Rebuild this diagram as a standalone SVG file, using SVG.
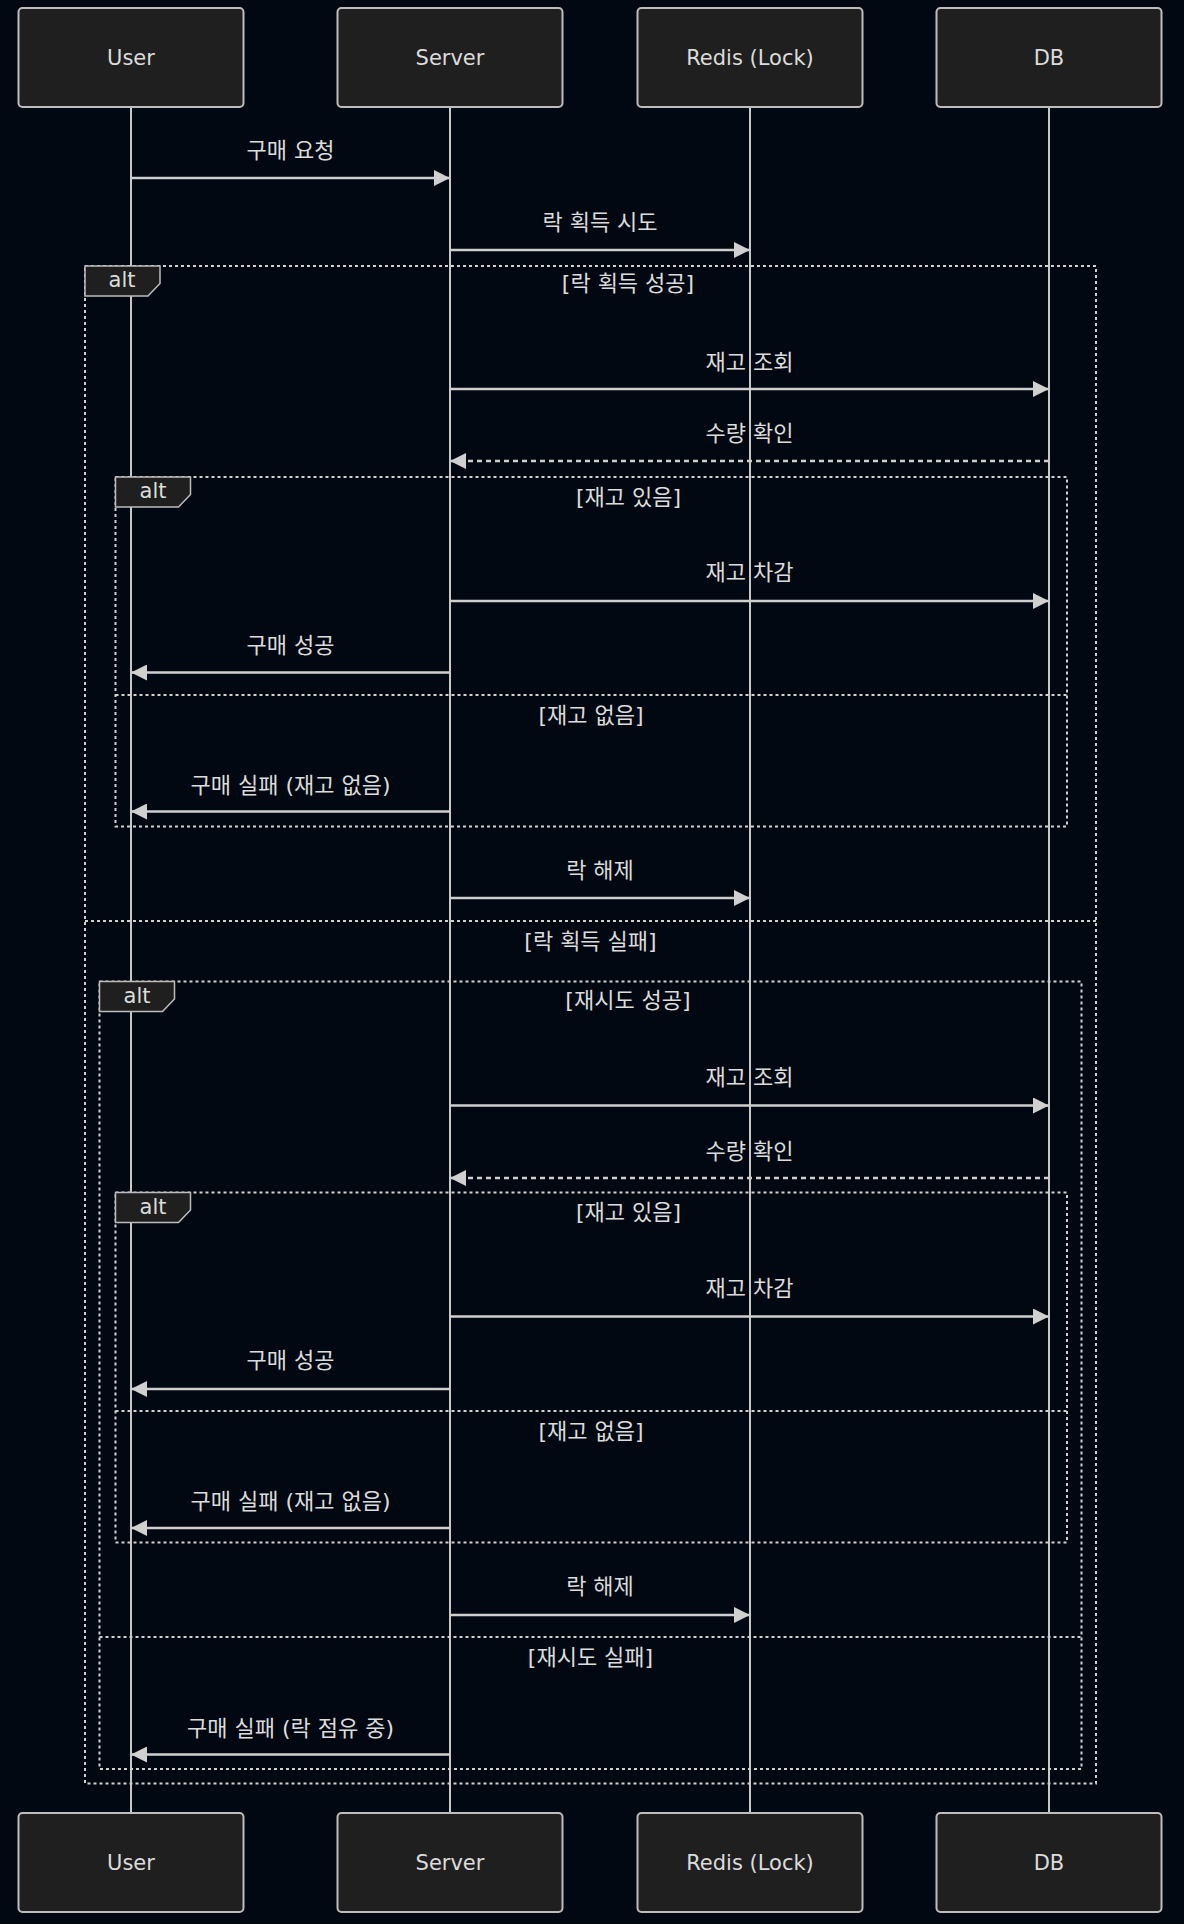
<svg xmlns="http://www.w3.org/2000/svg" width="1184" height="1924" viewBox="0 0 1184 1924">
<style>
  text { font-family: "DejaVu Sans", "Noto Sans CJK KR", sans-serif; fill: #dcdcdc; }
  .actor rect { fill: #1f1f1f; stroke: #bdbdbd; stroke-width: 2; }
  .actor text { font-size: 21px; text-anchor: middle; dominant-baseline: central; }
  .life { stroke: #c8c8c8; stroke-width: 2; }
  .msg { stroke: #cfcfcf; stroke-width: 2.5; fill: none; marker-end: url(#arr); }
  .dash { stroke-dasharray: 5,4; }
  .mt { font-size: 22px; text-anchor: middle; dominant-baseline: central; }
  .frame { fill: none; stroke: #d0d0d0; stroke-width: 2; stroke-dasharray: 3,3; }
  .lbl { fill: #1f1f1f; stroke: #bdbdbd; stroke-width: 1.5; }
  .lt { font-size: 21px; text-anchor: middle; dominant-baseline: central; }
  .st { font-size: 22px; text-anchor: middle; dominant-baseline: central; }
</style>
<defs>
  <marker id="arr" markerUnits="userSpaceOnUse" markerWidth="16" markerHeight="16" refX="16" refY="8" orient="auto">
    <path d="M0,0 L16,8 L0,16 z" fill="#d0d0d0"/>
  </marker>
</defs>
<rect x="0" y="0" width="1184" height="1924" fill="#020812"/>

<g id="lifelines">
  <line class="life" x1="131" y1="107" x2="131" y2="1813"/>
  <line class="life" x1="450" y1="107" x2="450" y2="1813"/>
  <line class="life" x1="750" y1="107" x2="750" y2="1813"/>
  <line class="life" x1="1049" y1="107" x2="1049" y2="1813"/>
</g>

<g id="actor-user-top" class="actor"><rect x="18.5" y="8" width="225" height="99" rx="4"/><text x="131" y="57.5">User</text></g>
<g id="actor-server-top" class="actor"><rect x="337.5" y="8" width="225" height="99" rx="4"/><text x="450" y="57.5">Server</text></g>
<g id="actor-redis-top" class="actor"><rect x="637.5" y="8" width="225" height="99" rx="4"/><text x="750" y="57.5">Redis (Lock)</text></g>
<g id="actor-db-top" class="actor"><rect x="936.5" y="8" width="225" height="99" rx="4"/><text x="1049" y="57.5">DB</text></g>

<g id="actor-user-bottom" class="actor"><rect x="18.5" y="1813" width="225" height="99" rx="4"/><text x="131" y="1862.5">User</text></g>
<g id="actor-server-bottom" class="actor"><rect x="337.5" y="1813" width="225" height="99" rx="4"/><text x="450" y="1862.5">Server</text></g>
<g id="actor-redis-bottom" class="actor"><rect x="637.5" y="1813" width="225" height="99" rx="4"/><text x="750" y="1862.5">Redis (Lock)</text></g>
<g id="actor-db-bottom" class="actor"><rect x="936.5" y="1813" width="225" height="99" rx="4"/><text x="1049" y="1862.5">DB</text></g>

<g id="frames">
  <g id="alt-outer">
    <rect class="frame" x="85" y="266" width="1011" height="1517.5"/>
    <line class="frame" x1="85" y1="921" x2="1096" y2="921"/>
    <polygon class="lbl" points="85,266 160,266 160,283.5 148,296 85,296"/>
    <text class="lt" x="122" y="280">alt</text>
    <text class="st" x="628" y="283">[락 획득 성공]</text>
    <text class="st" x="590.5" y="941">[락 획득 실패]</text>
  </g>
  <g id="alt-stock-1">
    <rect class="frame" x="115.5" y="477" width="951.5" height="349.5"/>
    <line class="frame" x1="115.5" y1="695" x2="1067" y2="695"/>
    <polygon class="lbl" points="115.5,477 190.5,477 190.5,494.5 178.5,507 115.5,507"/>
    <text class="lt" x="153" y="491">alt</text>
    <text class="st" x="628.5" y="497">[재고 있음]</text>
    <text class="st" x="591" y="715">[재고 없음]</text>
  </g>
  <g id="alt-retry">
    <rect class="frame" x="99.5" y="981.5" width="982" height="787.5"/>
    <line class="frame" x1="99.5" y1="1637" x2="1081.5" y2="1637"/>
    <polygon class="lbl" points="99.5,981.5 174.5,981.5 174.5,999 162.5,1011.5 99.5,1011.5"/>
    <text class="lt" x="137" y="995.5">alt</text>
    <text class="st" x="628" y="1000">[재시도 성공]</text>
    <text class="st" x="590.5" y="1657">[재시도 실패]</text>
  </g>
  <g id="alt-stock-2">
    <rect class="frame" x="115.5" y="1192.5" width="951.5" height="350"/>
    <line class="frame" x1="115.5" y1="1411" x2="1067" y2="1411"/>
    <polygon class="lbl" points="115.5,1192.5 190.5,1192.5 190.5,1210 178.5,1222.5 115.5,1222.5"/>
    <text class="lt" x="153" y="1206.5">alt</text>
    <text class="st" x="628.5" y="1212">[재고 있음]</text>
    <text class="st" x="591" y="1431.5">[재고 없음]</text>
  </g>
</g>

<g id="connectors">
  <line class="msg" x1="131" y1="178" x2="450" y2="178"/>
  <text class="mt" x="290.5" y="150">구매 요청</text>

  <line class="msg" x1="450" y1="250" x2="750" y2="250"/>
  <text class="mt" x="600" y="222">락 획득 시도</text>

  <line class="msg" x1="450" y1="389" x2="1049" y2="389"/>
  <text class="mt" x="749.5" y="362">재고 조회</text>

  <line class="msg dash" x1="1049" y1="461" x2="450" y2="461"/>
  <text class="mt" x="749.5" y="433">수량 확인</text>

  <line class="msg" x1="450" y1="601" x2="1049" y2="601"/>
  <text class="mt" x="749.5" y="572">재고 차감</text>

  <line class="msg" x1="450" y1="672.5" x2="131" y2="672.5"/>
  <text class="mt" x="290.5" y="645">구매 성공</text>

  <line class="msg" x1="450" y1="811.5" x2="131" y2="811.5"/>
  <text class="mt" x="290.5" y="785">구매 실패 (재고 없음)</text>

  <line class="msg" x1="450" y1="898" x2="750" y2="898"/>
  <text class="mt" x="600" y="870">락 해제</text>

  <line class="msg" x1="450" y1="1105.5" x2="1049" y2="1105.5"/>
  <text class="mt" x="749.5" y="1077">재고 조회</text>

  <line class="msg dash" x1="1049" y1="1178" x2="450" y2="1178"/>
  <text class="mt" x="749.5" y="1151">수량 확인</text>

  <line class="msg" x1="450" y1="1316.5" x2="1049" y2="1316.5"/>
  <text class="mt" x="749.5" y="1288">재고 차감</text>

  <line class="msg" x1="450" y1="1389" x2="131" y2="1389"/>
  <text class="mt" x="290.5" y="1360">구매 성공</text>

  <line class="msg" x1="450" y1="1528" x2="131" y2="1528"/>
  <text class="mt" x="290.5" y="1501.5">구매 실패 (재고 없음)</text>

  <line class="msg" x1="450" y1="1615" x2="750" y2="1615"/>
  <text class="mt" x="600" y="1586.5">락 해제</text>

  <line class="msg" x1="450" y1="1754.5" x2="131" y2="1754.5"/>
  <text class="mt" x="290.5" y="1728">구매 실패 (락 점유 중)</text>
</g>
</svg>
